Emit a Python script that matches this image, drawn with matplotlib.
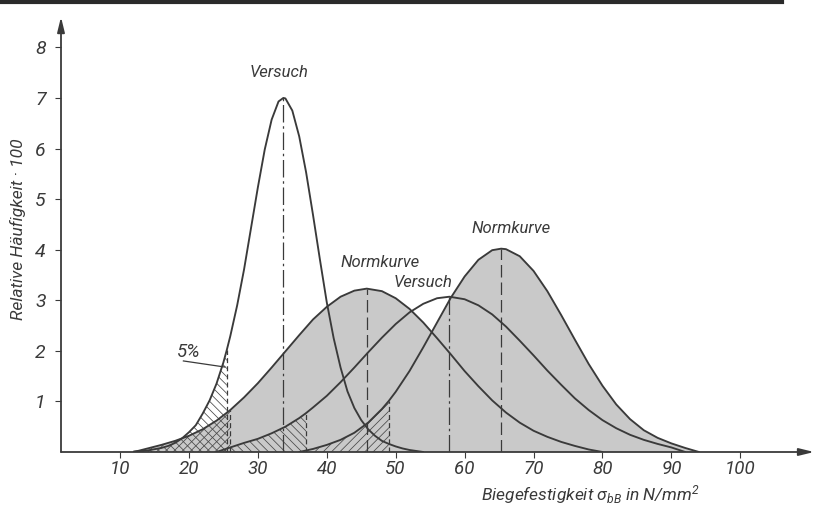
import numpy as np
import matplotlib
matplotlib.use("Agg")
import matplotlib.pyplot as plt
from matplotlib.lines import Line2D

# ---- data ----
# Versuch (narrow test curve)
v1_x = [12, 14, 16, 17, 18, 19, 20, 21, 22, 23, 24, 25, 25.5, 26, 27, 28, 29, 30, 31, 32, 33,
        33.7, 34, 35, 36, 37, 38, 39, 40, 41, 42, 43, 44, 45, 46, 47, 48, 49, 50, 51, 52, 54]
v1_y = [0.01, 0.03, 0.08, 0.12, 0.18, 0.27, 0.39, 0.53, 0.76, 1.02, 1.35, 1.77, 2.02, 2.29,
        2.90, 3.61, 4.42, 5.23, 5.98, 6.57, 6.93, 7.00, 6.99, 6.75, 6.24, 5.53, 4.69, 3.81,
        2.96, 2.25, 1.67, 1.20, 0.87, 0.63, 0.45, 0.32, 0.22, 0.16, 0.11, 0.07, 0.04, 0.0]
# Normkurve (left)
n1_x = [12, 14, 16, 18, 20, 22, 24, 26, 28, 30, 32, 34, 36, 38, 40, 42, 44, 45.8, 48, 50, 52,
        54, 56, 58, 60, 62, 64, 66, 68, 70, 72, 74, 76, 78, 80]
n1_y = [0.0, 0.07, 0.14, 0.22, 0.32, 0.45, 0.62, 0.83, 1.08, 1.36, 1.67, 1.99, 2.31, 2.62, 2.87,
        3.07, 3.19, 3.23, 3.18, 3.04, 2.83, 2.56, 2.25, 1.93, 1.60, 1.30, 1.02, 0.78, 0.58, 0.42,
        0.30, 0.20, 0.12, 0.05, 0.0]
# Versuch (wide test curve)
v2_x = [24, 26, 28, 30, 32, 34, 36, 37, 38, 40, 42, 44, 46, 48, 50, 52, 54, 56, 57.8, 60, 62,
        64, 66, 68, 70, 72, 74, 76, 78, 80, 82, 84, 86, 88, 90, 92]
v2_y = [0.0, 0.09, 0.18, 0.26, 0.37, 0.50, 0.67, 0.77, 0.88, 1.11, 1.38, 1.67, 1.97, 2.26, 2.53,
        2.76, 2.93, 3.04, 3.07, 3.02, 2.90, 2.72, 2.48, 2.20, 1.91, 1.61, 1.33, 1.06, 0.83, 0.63,
        0.47, 0.34, 0.24, 0.16, 0.09, 0.0]
# Normkurve (right)
n2_x = [36, 38, 40, 42, 44, 46, 48, 49, 50, 52, 54, 56, 58, 60, 62, 64, 65.3, 66, 68, 70, 72,
        74, 76, 78, 80, 82, 84, 86, 88, 90, 92, 94]
n2_y = [0.0, 0.06, 0.14, 0.24, 0.38, 0.58, 0.85, 1.01, 1.19, 1.60, 2.07, 2.56, 3.05, 3.47, 3.80,
        3.99, 4.02, 4.01, 3.87, 3.58, 3.18, 2.71, 2.22, 1.74, 1.31, 0.94, 0.65, 0.43, 0.28, 0.17,
        0.08, 0.0]

curve_names = ["Versuch", "Normkurve", "Versuch", "Normkurve"]
means = [33.7, 45.8, 57.8, 65.3]          # mean lines
q05 = [25.5, 26, 37, 49]                  # 5 % fractiles
x_ticks = [10, 20, 30, 40, 50, 60, 70, 80, 90, 100]
y_ticks = [1, 2, 3, 4, 5, 6, 7, 8]

# ---- style ----
FONT = ['Roboto', 'DejaVu Sans']
plt.rcParams['font.family'] = FONT
plt.rcParams['hatch.linewidth'] = 0.55
plt.rcParams['mathtext.fontset'] = 'custom'
plt.rcParams['mathtext.it'] = 'Roboto:italic'
plt.rcParams['mathtext.rm'] = 'Roboto:italic'
INK = '#3a3a3a'
TXT = '#3a3a3a'
GRAY = '#c9c9c9'

fig = plt.figure(figsize=(8.15, 5.07), dpi=100)
fig.patch.set_facecolor('white')
ax = fig.add_axes([61/815, 1-452/507, 751/815, 435/507])
x0, x1 = 1.44, 110.4
y0, y1 = 0.0, 8.6
ax.set_xlim(x0, x1)
ax.set_ylim(y0, y1)
for s in ax.spines.values():
    s.set_visible(False)

curves = [(v1_x, v1_y), (n1_x, n1_y), (v2_x, v2_y), (n2_x, n2_y)]
kinds = ['V', 'N', 'V', 'N']

# grey areas under the Normkurven
for (cx, cy), k in zip(curves, kinds):
    if k == 'N':
        ax.fill_between(cx, 0, cy, facecolor=GRAY, edgecolor='none', zorder=1)

# hatched 5 % areas
for (cx, cy), k, q in zip(curves, kinds, q05):
    cx = np.asarray(cx); cy = np.asarray(cy)
    m = cx <= q
    ax.fill_between(cx[m], 0, cy[m], facecolor='none', edgecolor='#474747', linewidth=0,
                    hatch='\\\\\\\\' if k == 'V' else '////', zorder=2)
    ax.plot([q, q], [0, cy[m][-1]], color=INK, lw=0.9, ls=(0, (4, 2.5)), zorder=3)

# curves and mean lines
for (cx, cy), k, mu in zip(curves, kinds, means):
    ax.plot(cx, cy, color=INK, lw=1.35, zorder=4, solid_capstyle='round')
    ls = (0, (14, 3, 2, 3)) if k == 'V' else (0, (10, 4))
    ax.plot([mu, mu], [0, max(cy)], color=INK, lw=0.9, ls=ls, zorder=3)

# axes with arrows
arrow = dict(arrowstyle='-|>,head_length=0.9,head_width=0.22', color=INK, lw=1.3,
             shrinkA=0, shrinkB=0)
ax.annotate('', xy=(x1 + 0.3, 0), xytext=(x0, 0), arrowprops=arrow, annotation_clip=False, zorder=5)
ax.annotate('', xy=(x0, y1), xytext=(x0, 0), arrowprops=arrow, annotation_clip=False, zorder=5)

ax.set_xticks(x_ticks)
ax.set_xticklabels([str(t) for t in x_ticks])
ax.set_yticks(y_ticks)
ax.set_yticklabels([str(t) for t in y_ticks])
ax.tick_params(axis='both', direction='out', length=4, width=0.8, color=INK,
               labelcolor=TXT, labelsize=14)
ax.tick_params(axis='x', pad=1.5, labelsize=13.5)
ax.tick_params(axis='y', pad=7)
for lab in ax.get_xticklabels() + ax.get_yticklabels():
    lab.set_fontstyle('italic')

# curve labels
lab_kw = dict(ha='center', va='center', fontsize=12, style='italic', color=TXT)
ax.text(33.1, 7.5, curve_names[0], **lab_kw)
ax.text(47.7, 3.74, curve_names[1], **lab_kw)
ax.text(54.0, 3.36, curve_names[2], **lab_kw)
ax.text(66.7, 4.42, curve_names[3], **lab_kw)
ax.text(20.0, 1.98, '5%', ha='center', va='center', fontsize=13.5, style='italic', color=TXT)
ax.plot([19.2, 25.2], [1.80, 1.68], color=INK, lw=0.9, zorder=5)

# axis titles
fig.text(18/815, 1-229/507, 'Relative Häufigkeit · 100', rotation=90, ha='center', va='center',
         fontsize=12.5, style='italic', color=TXT)
fig.text(590/815, 1-495/507, r'Biegefestigkeit $\sigma_{bB}$ in N/mm$^2$', ha='center',
         va='center', fontsize=12.5, style='italic', color=TXT)

# dark scan edge at the top
fig.add_artist(Line2D([0, 0.96], [0.997, 0.997], transform=fig.transFigure, color='#2a2a2a', lw=3))

fig.savefig('out.png', dpi=100, facecolor='white')
